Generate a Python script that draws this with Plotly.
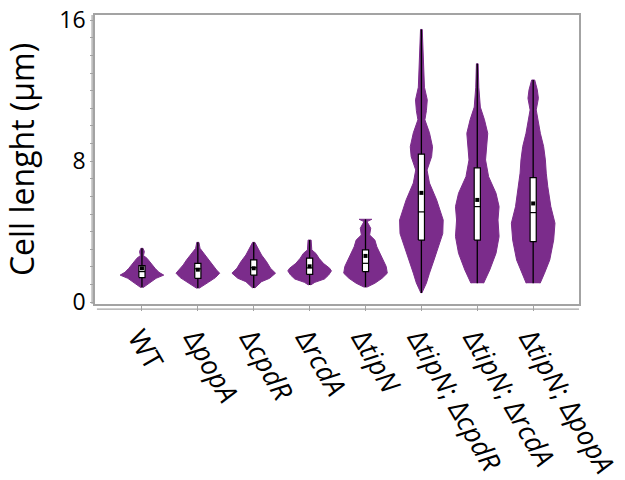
import plotly.graph_objects as go

# Strains (tick labels, gene names in italics)
strains = [
    "WT",
    "Δ<i>popA</i>",
    "Δ<i>cpdR</i>",
    "Δ<i>rcdA</i>",
    "Δ<i>tipN</i>",
    "Δ<i>tipN</i>; Δ<i>cpdR</i>",
    "Δ<i>tipN</i>; Δ<i>rcdA</i>",
    "Δ<i>tipN</i>; Δ<i>popA</i>",
]

# Violin outlines: cell length levels (µm) and relative density at each level
levels = [
    [0.82, 1.12, 1.35, 1.53, 1.69, 1.92, 2.20, 2.49, 2.64, 2.87, 3.05],
    [0.78, 1.12, 1.39, 1.64, 1.82, 2.11, 2.39, 2.67, 3.05, 3.39],
    [0.80, 1.16, 1.35, 1.64, 1.92, 2.29, 2.67, 3.05, 3.39],
    [0.97, 1.12, 1.31, 1.53, 1.77, 1.92, 2.20, 2.49, 2.76, 2.96, 3.52],
    [0.84, 1.07, 1.35, 1.64, 2.02, 2.39, 2.77, 3.14, 3.52, 3.81, 4.19, 4.57, 4.70],
    [0.51, 1.08, 1.64, 2.39, 3.14, 3.89, 4.66, 5.80, 6.76, 7.50, 8.26, 8.82,
     9.61, 10.35, 10.87, 11.48, 12.20, 14.15, 15.48],
    [1.07, 1.82, 2.77, 3.72, 4.66, 5.42, 6.18, 7.12, 8.07, 8.83, 9.58, 10.35,
     11.07, 12.20, 13.53],
    [1.07, 1.64, 2.39, 3.52, 4.48, 5.42, 6.56, 7.32, 8.07, 8.83, 9.58, 10.34,
     10.91, 11.57, 12.05, 12.61],
]
density = [
    [0.05, 0.37, 0.65, 1.00, 0.78, 0.60, 0.41, 0.23, 0.07, 0.11, 0.05],
    [0.05, 0.48, 0.81, 1.00, 0.86, 0.67, 0.52, 0.33, 0.10, 0.05],
    [0.05, 0.36, 0.73, 1.00, 0.77, 0.59, 0.36, 0.18, 0.05],
    [0.05, 0.24, 0.68, 0.87, 1.00, 0.92, 0.63, 0.43, 0.29, 0.10, 0.07],
    [0.05, 0.43, 0.76, 1.00, 0.95, 0.81, 0.67, 0.52, 0.43, 0.19, 0.24, 0.07, 0.29],
    [0.02, 0.23, 0.37, 0.58, 0.79, 0.98, 1.00, 0.70, 0.37, 0.26, 0.47, 0.51,
     0.37, 0.16, 0.23, 0.27, 0.14, 0.07, 0.04],
    [0.29, 0.57, 0.86, 1.00, 0.95, 1.00, 0.86, 0.52, 0.38, 0.43, 0.48, 0.33,
     0.14, 0.07, 0.04],
    [0.32, 0.52, 0.76, 0.94, 1.00, 0.81, 0.67, 0.60, 0.56, 0.48, 0.33, 0.21,
     0.14, 0.24, 0.19, 0.07],
]

# Box summaries (µm)
len_min = [0.82, 0.78, 0.80, 0.97, 0.84, 0.51, 1.07, 1.07]
len_q1 = [1.39, 1.35, 1.53, 1.57, 1.73, 3.52, 3.52, 3.43]
len_median = [1.73, 1.89, 1.95, 1.94, 2.20, 5.12, 5.42, 5.08]
len_q3 = [2.07, 2.20, 2.39, 2.49, 2.96, 8.40, 7.62, 7.07]
len_max = [3.05, 3.39, 3.39, 3.52, 4.70, 15.48, 13.53, 12.61]
len_mean = [1.92, 1.84, 1.92, 2.03, 2.62, 6.20, 5.80, 5.60]

PURPLE = "#7B2C8B"
FRAME = "#a3a3a3"
HALF_WIDTH = 0.39   # widest point of each violin, in category units
BOX_HALF = 0.055    # half width of the inner box, in category units
FONT = "Open Sans"

fig = go.Figure()

# Violins
for i, (lv, dn) in enumerate(zip(levels, density)):
    xs = [i - d * HALF_WIDTH for d in dn] + [i + d * HALF_WIDTH for d in reversed(dn)]
    ys = list(lv) + list(reversed(lv))
    fig.add_trace(go.Scatter(
        x=xs, y=ys, mode="lines", fill="toself",
        fillcolor=PURPLE, line=dict(color=PURPLE, width=1),
        hoverinfo="skip", showlegend=False,
    ))

# Whiskers: full range line through each violin
wx, wy = [], []
for i in range(len(strains)):
    wx += [i, i, None]
    wy += [len_min[i], len_max[i], None]
fig.add_trace(go.Scatter(x=wx, y=wy, mode="lines",
                         line=dict(color="black", width=1.3),
                         hoverinfo="skip", showlegend=False))

# Inner boxes (Q1-Q3) with median line
for i in range(len(strains)):
    x0, x1 = i - BOX_HALF, i + BOX_HALF
    fig.add_trace(go.Scatter(
        x=[x0, x1, x1, x0, x0],
        y=[len_q1[i], len_q1[i], len_q3[i], len_q3[i], len_q1[i]],
        mode="lines", fill="toself", fillcolor="white",
        line=dict(color="black", width=1.2),
        hoverinfo="skip", showlegend=False,
    ))
    fig.add_trace(go.Scatter(
        x=[x0, x1], y=[len_median[i], len_median[i]], mode="lines",
        line=dict(color="black", width=1.2),
        hoverinfo="skip", showlegend=False,
    ))

# Means
fig.add_trace(go.Scatter(
    x=list(range(len(strains))), y=len_mean, mode="markers",
    marker=dict(color="black", size=4, symbol="square"),
    showlegend=False,
))

# Detached axis baselines just outside the frame
fig.add_shape(type="line", xref="paper", yref="paper",
              x0=0.004, x1=1.0, y0=-0.018, y1=-0.018,
              line=dict(color=FRAME, width=1.2))
fig.add_shape(type="line", xref="paper", yref="paper",
              x0=-0.006, x1=-0.006, y0=0.0, y1=1.0,
              line=dict(color=FRAME, width=1.2))

fig.update_layout(
    width=625, height=480,
    margin=dict(l=95, r=46, t=15, b=176),
    paper_bgcolor="white", plot_bgcolor="white",
    font=dict(family=FONT, color="black"),
    xaxis=dict(
        range=[-0.84, 7.82], automargin=False,
        tickmode="array", tickvals=list(range(len(strains))), ticktext=strains,
        tickangle=60, tickfont=dict(size=27.5, family=FONT),
        ticklabeloverflow="allow", ticklabelshift=-3,
        ticks="outside", ticklen=5, tickcolor=FRAME, tickwidth=1,
        showline=True, mirror=True, linecolor=FRAME, linewidth=1.5,
        showgrid=False, zeroline=False,
    ),
    yaxis=dict(
        range=[-0.11, 16.3], automargin=False,
        tickmode="array", tickvals=[0, 8, 16],
        tickfont=dict(size=23, family=FONT),
        ticklabeloverflow="allow",
        ticks="outside", ticklen=3, tickcolor=FRAME, tickwidth=1,
        minor=dict(dtick=1, ticks="outside", ticklen=3, tickcolor=FRAME),
        showline=True, mirror=True, linecolor=FRAME, linewidth=1.5,
        showgrid=False, zeroline=False,
        title=dict(text="Cell lenght (µm)", font=dict(size=32, family=FONT),
                   standoff=20),
    ),
)

fig.write_html("out.html")
